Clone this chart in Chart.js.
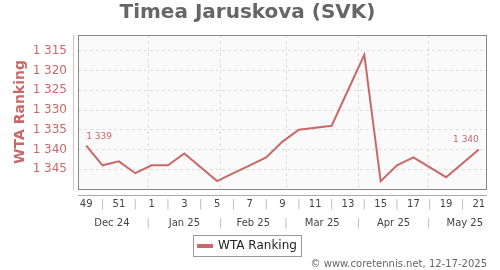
<!DOCTYPE html>
<html>
<head>
<meta charset="utf-8">
<script src="https://cdn.jsdelivr.net/npm/chart.js@4/dist/chart.umd.min.js"></script>
<style>
  html, body { margin: 0; padding: 0; background: #fff; }
  #wrap { width: 500px; height: 270px; }
</style>
</head>
<body>
<div id="wrap"><canvas id="chart" width="500" height="270"></canvas></div>
<script>
// ── DATA ───────────────────────────────────────────────────────
const weeks = [49, 50, 51, 52, 1, 2, 3, 4, 5, 6, 7, 8, 9, 10, 11, 12, 13, 14, 15, 16, 17, 18, 19, 20, 21];
const ranking = [1339, 1344, 1343, 1346, 1344, 1344, 1341, null, 1348, 1346, 1344, 1342, 1338,
                 1335, null, 1334, 1325, 1316, 1348, 1344, 1342, null, 1347, null, 1340];
const yTicks = [1315, 1320, 1325, 1330, 1335, 1340, 1345];
const monthLabels = ['Dec 24', 'Jan 25', 'Feb 25', 'Mar 25', 'Apr 25', 'May 25'];
const monthStarts = ['2024-12-01', '2025-01-01', '2025-02-01', '2025-03-01', '2025-04-01', '2025-05-01', '2025-06-01'];
const firstWeekMid = '2024-12-05T12:00:00Z';

const RED = '#c96868';
const fmtNum = v => String(v).replace(/\B(?=(\d{3})+(?!\d))/g, ' ');

// week index of a date (weekly points sit mid-week)
const WEEK = 7 * 24 * 3600 * 1000;
const weekPos = d => (Date.parse(d + (d.length === 10 ? 'T00:00:00Z' : '')) - Date.parse(firstWeekMid)) / WEEK;

const monthTicks = [];
monthLabels.forEach((m, i) => {
  const a = weekPos(monthStarts[i]), b = weekPos(monthStarts[i + 1]);
  if (a > -0.5) monthTicks.push({ value: a, label: '|', edge: true });
  monthTicks.push({ value: (a + b) / 2, label: m, edge: false });
});

// ── PLUGINS ────────────────────────────────────────────────────
const frame = {
  id: 'frame',
  beforeDraw(chart) {
    const { ctx, chartArea: a } = chart;
    ctx.save();
    ctx.fillStyle = '#fafafa';
    ctx.fillRect(a.left, a.top, a.right - a.left, a.bottom - a.top);
    ctx.restore();
  },
  afterDraw(chart) {
    const { ctx, chartArea: a } = chart;
    ctx.save();
    ctx.strokeStyle = '#888';
    ctx.lineWidth = 1;
    ctx.strokeRect(Math.round(a.left) + 0.5, Math.round(a.top) + 0.5,
      Math.round(a.right - a.left) - 1, Math.round(a.bottom - a.top));
    // detached axis lines
    ctx.strokeStyle = '#e3b9b9';
    ctx.beginPath();
    ctx.moveTo(Math.round(a.left) - 4.5, a.top);
    ctx.lineTo(Math.round(a.left) - 4.5, a.bottom + 1);
    ctx.stroke();
    ctx.strokeStyle = '#aaa';
    ctx.beginPath();
    ctx.moveTo(a.left, Math.round(a.bottom) + 6.5);
    ctx.lineTo(a.right, Math.round(a.bottom) + 6.5);
    ctx.stroke();
    // first / last value labels
    const pts = chart.getDatasetMeta(0).data;
    const first = pts[0], last = pts[pts.length - 1];
    ctx.fillStyle = RED;
    ctx.font = '9px "DejaVu Sans", sans-serif';
    ctx.textBaseline = 'middle';
    ctx.textAlign = 'left';
    ctx.fillText(fmtNum(ranking[0]), first.x, first.y - 9);
    ctx.textAlign = 'right';
    ctx.fillText(fmtNum(ranking[ranking.length - 1]), last.x, last.y - 10);
    // legend box
    const hb = chart.legend.legendHitBoxes[0];
    if (hb) {
      ctx.strokeStyle = '#999';
      ctx.strokeRect(Math.round(hb.left) - 4.5, Math.round(hb.top) - 4.5,
        Math.round(hb.width) + 9, Math.round(hb.height) + 9);
    }
    ctx.restore();
  }
};

// ── CHART ──────────────────────────────────────────────────────
new Chart(document.getElementById('chart'), {
  type: 'line',
  data: {
    labels: weeks,
    datasets: [{
      label: 'WTA Ranking',
      data: ranking,
      borderColor: RED,
      backgroundColor: RED,
      borderWidth: 2,
      pointRadius: 0,
      tension: 0,
      spanGaps: true,
    }]
  },
  options: {
    responsive: false,
    animation: false,
    layout: { padding: { left: 8, right: 13, top: 0, bottom: 0 } },
    scales: {
      y: {
        reverse: true,
        min: 1311,
        max: 1350,
        afterBuildTicks: s => { s.ticks = yTicks.map(v => ({ value: v })); },
        afterFit: s => { s.width = 70; },
        grid: { color: '#dedede', drawTicks: false },
        border: { display: false, dash: [3, 3] },
        ticks: {
          color: RED, padding: 11,
          font: { family: '"DejaVu Sans"', size: 12 },
          callback: v => fmtNum(v),
        },
        title: {
          display: true, text: 'WTA Ranking', color: RED,
          font: { family: '"DejaVu Sans"', size: 14, weight: 'bold' },
          padding: { top: 4, bottom: 4 },
        },
      },
      x: {
        offset: true,
        afterFit: s => { s.height = 21; },
        grid: { display: false, drawTicks: false },
        border: { display: false },
        ticks: {
          autoSkip: false, maxRotation: 0, padding: 9,
          font: { family: '"DejaVu Sans"', size: 10 },
          color: ctx => ctx.index % 2 ? '#b5b5b5' : '#444',
          callback: (v, i) => i % 2 ? '|' : weeks[i],
        },
      },
      x2: {
        type: 'linear',
        position: 'bottom',
        min: -0.5,
        max: weeks.length - 0.5,
        afterBuildTicks: s => { s.ticks = monthTicks.map(t => ({ value: t.value })); },
        afterFit: s => { s.height = 24; },
        grid: {
          drawTicks: false,
          color: ctx => (monthTicks[ctx.index] && monthTicks[ctx.index].edge) ? '#dcdcdc' : 'rgba(0,0,0,0)',
        },
        border: { display: false, dash: [3, 3] },
        ticks: {
          autoSkip: false, maxRotation: 0, padding: 7,
          font: { family: '"DejaVu Sans"', size: 10 },
          color: ctx => (monthTicks[ctx.index] && monthTicks[ctx.index].edge) ? '#b5b5b5' : '#444',
          callback: (v, i) => monthTicks[i].label,
        },
      },
    },
    plugins: {
      title: {
        display: true,
        text: 'Timea Jaruskova (SVK)',
        color: '#666',
        font: { family: '"DejaVu Sans"', size: 20, weight: 'bold' },
        padding: { top: 1, bottom: 10 },
      },
      subtitle: {
        display: true,
        position: 'bottom',
        align: 'end',
        text: '© www.coretennis.net, 12-17-2025',
        color: '#666',
        font: { family: '"DejaVu Sans"', size: 10 },
        padding: { top: -4, bottom: 0 },
      },
      legend: {
        position: 'bottom',
        labels: {
          boxWidth: 14, boxHeight: 2,
          color: '#222',
          font: { family: '"DejaVu Sans"', size: 12 },
          padding: 6,
        },
      },
      tooltip: { enabled: false },
    },
  },
  plugins: [frame],
});
</script>
</body>
</html>
